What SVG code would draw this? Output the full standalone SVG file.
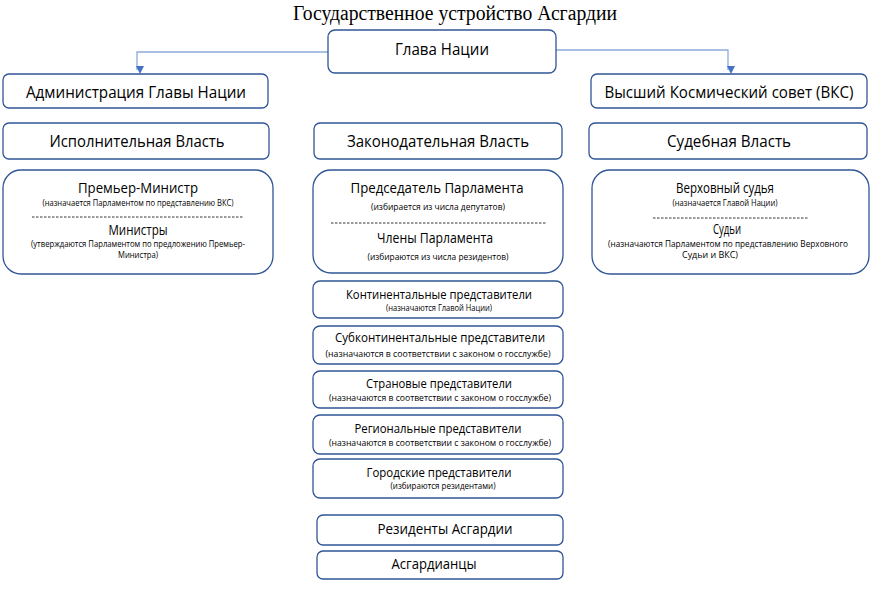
<svg xmlns="http://www.w3.org/2000/svg" width="870" height="589" viewBox="0 0 870 589">
<style>
.box{fill:#fff;stroke:#2F5597;stroke-width:1.3}
.t{font-family:"Open Sans","Noto Sans",sans-serif;fill:#000;text-anchor:middle}
.h1{font-size:16px}
.h2{font-size:14px}
.h3{font-size:12.5px}
.s{font-size:8.5px}
.d{stroke:#000;stroke-width:0.8;stroke-dasharray:2.5 1.5}
.c{fill:none;stroke:#8FAADC;stroke-width:1.3}
</style>
<defs>
<marker id="ar" markerWidth="8" markerHeight="8" refX="4" refY="7" orient="auto" markerUnits="userSpaceOnUse" viewBox="0 0 8 8">
<path d="M0,0 L8,0 L4,8 Z" fill="#4472C4" transform="rotate(-90 4 4)"/>
</marker>
</defs>
<rect width="870" height="589" fill="#fff"/>
<text x="455" y="20" font-family="Liberation Serif,serif" font-size="20" text-anchor="middle" textLength="324" lengthAdjust="spacingAndGlyphs">Государственное устройство Асгардии</text>

<g id="connectors">
<path class="c" d="M328,52 H137 V70" marker-end="url(#ar)"/>
<path class="c" d="M556,50 H728 V70" marker-end="url(#ar)"/>
</g>

<g id="glava"><rect class="box" x="328" y="30" width="228" height="43" rx="7"/>
<text class="t h1" x="442" y="55" textLength="94" lengthAdjust="spacingAndGlyphs">Глава Нации</text></g>

<g id="admin"><rect class="box" x="3" y="74" width="265" height="34" rx="6"/>
<text class="t h1" x="136" y="98" textLength="220" lengthAdjust="spacingAndGlyphs">Администрация Главы Нации</text></g>

<g id="vks"><rect class="box" x="591" y="74" width="276" height="34" rx="6"/>
<text class="t h1" x="729" y="98" textLength="249" lengthAdjust="spacingAndGlyphs">Высший Космический совет (ВКС)</text></g>

<g id="exec"><rect class="box" x="3" y="123" width="266" height="36" rx="6"/>
<text class="t h1" x="137" y="147" textLength="175" lengthAdjust="spacingAndGlyphs">Исполнительная Власть</text></g>

<g id="leg"><rect class="box" x="314" y="123" width="248" height="36" rx="6"/>
<text class="t h1" x="438" y="147" textLength="182" lengthAdjust="spacingAndGlyphs">Законодательная Власть</text></g>

<g id="jud"><rect class="box" x="589" y="123" width="278" height="36" rx="6"/>
<text class="t h1" x="729" y="147" textLength="124" lengthAdjust="spacingAndGlyphs">Судебная Власть</text></g>

<g id="pm"><rect class="box" x="3" y="170" width="270" height="104" rx="18"/>
<text class="t h2" x="138" y="193" textLength="120" lengthAdjust="spacingAndGlyphs">Премьер-Министр</text>
<text class="t s" x="138" y="206" textLength="191" lengthAdjust="spacingAndGlyphs">(назначается Парламентом по представлению ВКС)</text>
<line class="d" x1="32" y1="217" x2="244" y2="217"/>
<text class="t h2" x="138" y="235" textLength="59" lengthAdjust="spacingAndGlyphs">Министры</text>
<text class="t s" x="138" y="247" textLength="214" lengthAdjust="spacingAndGlyphs">(утверждаются Парламентом по предложению Премьер-</text>
<text class="t s" x="138" y="258" textLength="40" lengthAdjust="spacingAndGlyphs">Министра)</text></g>

<g id="parl"><rect class="box" x="313" y="170" width="250" height="103" rx="18"/>
<text class="t h2" x="437" y="193" textLength="173" lengthAdjust="spacingAndGlyphs">Председатель Парламента</text>
<text class="t s" x="438" y="210" textLength="134" lengthAdjust="spacingAndGlyphs">(избирается из числа депутатов)</text>
<line class="d" x1="331" y1="223" x2="547" y2="223"/>
<text class="t h2" x="435" y="243" textLength="116" lengthAdjust="spacingAndGlyphs">Члены Парламента</text>
<text class="t s" x="438" y="260" textLength="141" lengthAdjust="spacingAndGlyphs">(избираются из числа резидентов)</text></g>

<g id="judge"><rect class="box" x="592" y="170" width="277" height="104" rx="18"/>
<text class="t h2" x="725" y="193" textLength="98" lengthAdjust="spacingAndGlyphs">Верховный судья</text>
<text class="t s" x="725" y="206" textLength="105" lengthAdjust="spacingAndGlyphs">(назначается Главой Нации)</text>
<line class="d" x1="653" y1="218" x2="808" y2="218"/>
<text class="t h2" x="727" y="234" textLength="28" lengthAdjust="spacingAndGlyphs">Судьи</text>
<text class="t s" x="728" y="247" textLength="240" lengthAdjust="spacingAndGlyphs">(назначаются Парламентом по представлению Верховного</text>
<text class="t s" x="710" y="258" textLength="56" lengthAdjust="spacingAndGlyphs">Судьи и ВКС)</text></g>

<g id="cont"><rect class="box" x="313" y="281" width="250" height="37" rx="7"/>
<text class="t h3" x="439" y="299" textLength="186" lengthAdjust="spacingAndGlyphs">Континентальные представители</text>
<text class="t s" x="439" y="311" textLength="106" lengthAdjust="spacingAndGlyphs">(назначаются Главой Нации)</text></g>

<g id="subcont"><rect class="box" x="313" y="326" width="250" height="38" rx="7"/>
<text class="t h3" x="440" y="342" textLength="210" lengthAdjust="spacingAndGlyphs">Субконтинентальные представители</text>
<text class="t s" x="438" y="357" textLength="225" lengthAdjust="spacingAndGlyphs">(назначаются в соответствии с законом о госслужбе)</text></g>

<g id="country"><rect class="box" x="313" y="371" width="250" height="37" rx="7"/>
<text class="t h3" x="439" y="388" textLength="146" lengthAdjust="spacingAndGlyphs">Страновые представители</text>
<text class="t s" x="440" y="401" textLength="222" lengthAdjust="spacingAndGlyphs">(назначаются в соответствии с законом о госслужбе)</text></g>

<g id="region"><rect class="box" x="313" y="415" width="250" height="39" rx="7"/>
<text class="t h3" x="438" y="433" textLength="167" lengthAdjust="spacingAndGlyphs">Региональные представители</text>
<text class="t s" x="440" y="446" textLength="222" lengthAdjust="spacingAndGlyphs">(назначаются в соответствии с законом о госслужбе)</text></g>

<g id="city"><rect class="box" x="313" y="459" width="250" height="39" rx="7"/>
<text class="t h3" x="439" y="477" textLength="145" lengthAdjust="spacingAndGlyphs">Городские представители</text>
<text class="t s" x="443" y="489" textLength="105" lengthAdjust="spacingAndGlyphs">(избираются резидентами)</text></g>

<g id="residents"><rect class="box" x="317" y="515" width="246" height="30" rx="6"/>
<text class="t h2" x="445" y="534" textLength="135" lengthAdjust="spacingAndGlyphs">Резиденты Асгардии</text></g>

<g id="asgardians"><rect class="box" x="317" y="551" width="246" height="28" rx="6"/>
<text class="t h2" x="434" y="569" textLength="85" lengthAdjust="spacingAndGlyphs">Асгардианцы</text></g>
</svg>
